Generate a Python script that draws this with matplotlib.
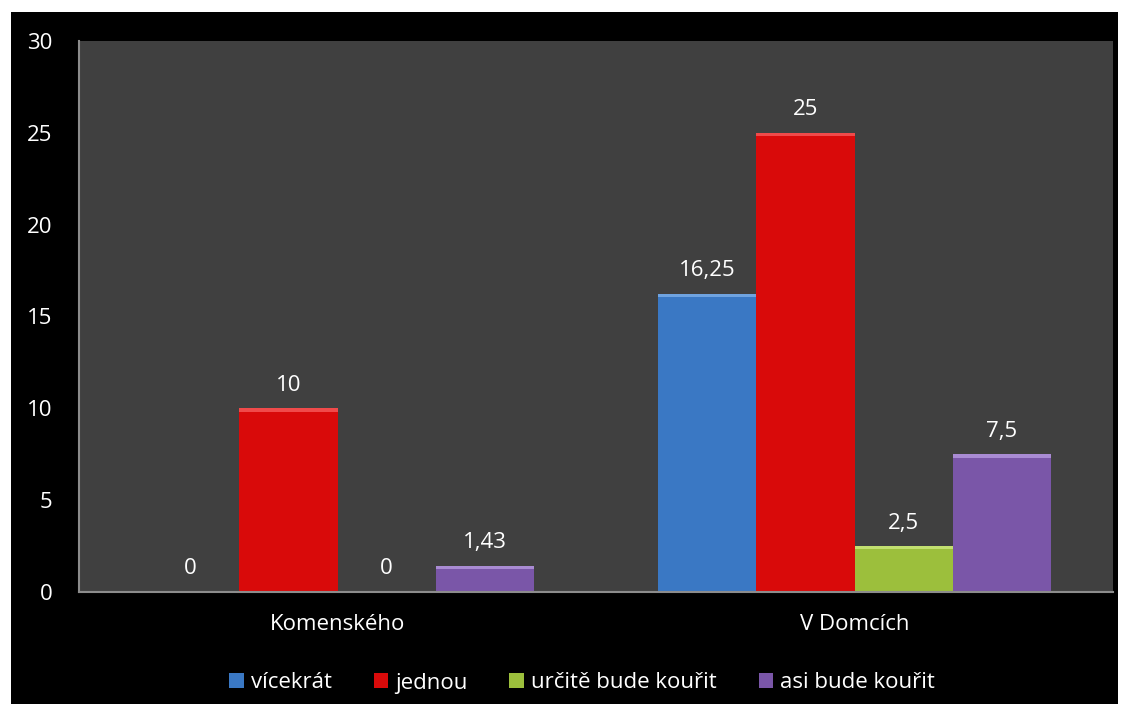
import matplotlib.pyplot as plt
from matplotlib.patches import Rectangle
import numpy as np

plt.rcParams['font.family'] = ['Open Sans', 'DejaVu Sans']

categories = ["Komenského", "V Domcích"]
series_names = ["vícekrát", "jednou", "určitě bude kouřit", "asi bude kouřit"]
vicekrat = [0, 16.25]
jednou = [10, 25]
urcite = [0, 2.5]
asi = [1.43, 7.5]
values = [vicekrat, jednou, urcite, asi]
labels = [["0", "16,25"], ["10", "25"], ["0", "2,5"], ["1,43", "7,5"]]
colors = ["#3a78c4", "#d90a0a", "#9cbf3c", "#7a56a8"]
edge_colors = ["#6fa3e0", "#f04a4a", "#c3e070", "#a98bd3"]

fig = plt.figure(figsize=(11.3, 7.16), dpi=100)
fig.patch.set_facecolor("white")
# black panel inside the white frame
fig.patches.append(Rectangle((11 / 1130, 12 / 716), 1107 / 1130, 692 / 716,
                             transform=fig.transFigure, facecolor="black",
                             edgecolor="none", zorder=-5))

ax = fig.add_axes([79 / 1130, 1 - 592 / 716, 1034 / 1130, 551 / 716])
ax.set_facecolor("#404040")

x = np.arange(len(categories))
w = 0.19
for i, (vals, lab, c) in enumerate(zip(values, labels, colors)):
    pos = x + (i - 1.5) * w
    bars = ax.bar(pos, vals, width=w, color=c, edgecolor="none", label=series_names[i], zorder=2)
    # light top edge, a rough nod to the bevel look
    ax.bar(pos, [0.18 if v > 0 else 0 for v in vals], bottom=[v - 0.18 for v in vals],
           width=w, color=edge_colors[i], edgecolor="none", zorder=3)
    for b, t in zip(bars, lab):
        ax.annotate(t, (b.get_x() + b.get_width() / 2, b.get_height()),
                    xytext=(0, 9), textcoords="offset points",
                    ha="center", va="bottom", color="white", fontsize=16)

ax.set_xlim(-0.5, 1.5)
ax.set_ylim(0, 30)
ax.set_yticks(range(0, 31, 5))
ax.set_xticks(x)
ax.set_xticklabels(categories)
ax.tick_params(axis="y", length=0, pad=19, colors="white", labelsize=16)
ax.tick_params(axis="x", length=0, pad=16, colors="white", labelsize=16)
for s in ["top", "right"]:
    ax.spines[s].set_visible(False)
for s in ["left", "bottom"]:
    ax.spines[s].set_color("#8c8c8c")
    ax.spines[s].set_linewidth(1.5)

leg = fig.legend(loc="center", bbox_to_anchor=(582 / 1130, 1 - 683 / 716), ncol=4,
                 frameon=False, fontsize=16, handlelength=0.65, handleheight=0.65,
                 handletextpad=0.3, columnspacing=1.9, labelcolor="white")

fig.savefig("out.png", dpi=100, facecolor=fig.get_facecolor())
